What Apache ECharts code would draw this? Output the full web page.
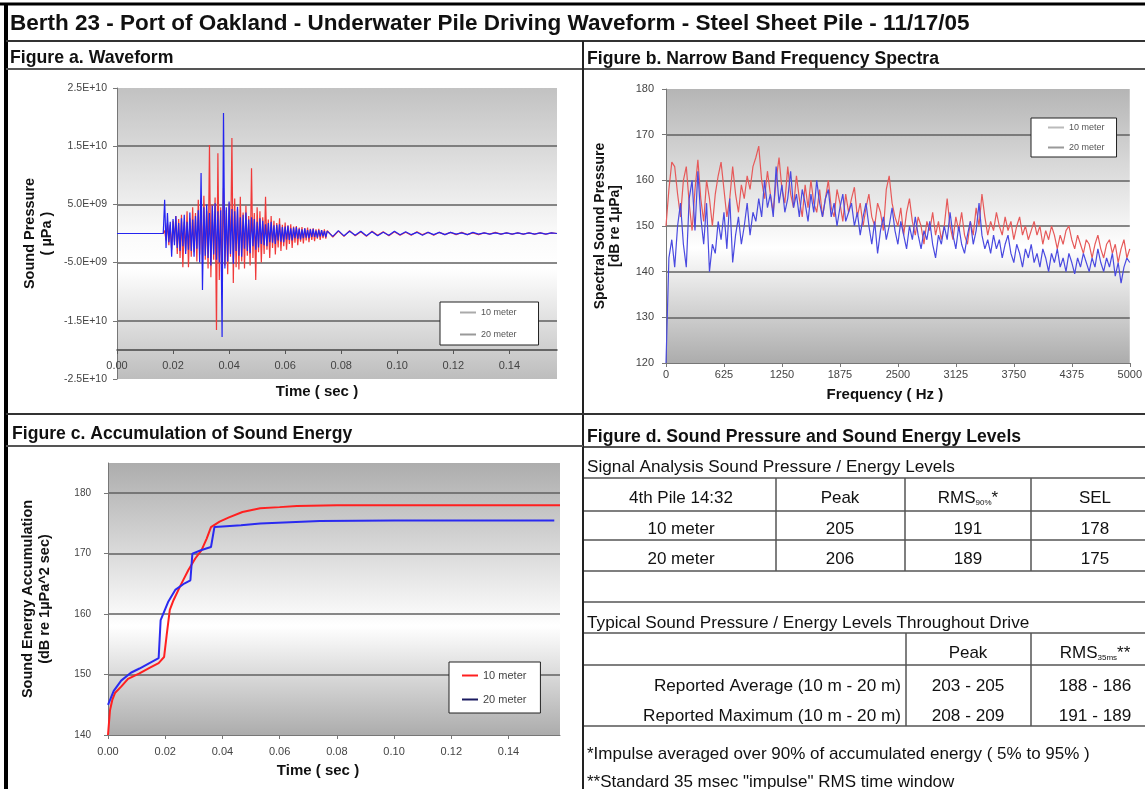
<!DOCTYPE html>
<html><head><meta charset="utf-8">
<script src="https://cdn.jsdelivr.net/npm/echarts@6/dist/echarts.min.js"></script>
<style>html,body{margin:0;padding:0;background:#fff;}#c{width:1145px;height:789px;}</style>
</head><body><div id="c"></div>
<script>
// ---------------- text ----------------
const pageTitle = 'Berth 23 - Port of Oakland - Underwater Pile Driving Waveform - Steel Sheet Pile - 11/17/05';
const panelTitles = ['Figure a. Waveform', 'Figure b. Narrow Band Frequency Spectra',
  'Figure c. Accumulation of Sound Energy', 'Figure d. Sound Pressure and Sound Energy Levels'];
const seriesNames = ['10 meter', '20 meter'];

// ---------------- Figure a: waveform (units of 1E9 µPa) ----------------
const wavePreTime = 0, wavePreValue = 0;
const waveBurstStart = 0.0165, waveBurstStep = 0.0005;
const waveTailStart = 0.075, waveTailStep = 0.002;
const wave10Burst = [0,0.5,-1.2,1.8,-2.0,1.5,-2.8,2.2,-1.5,3.0,
 -3.5,2.5,-4.2,3.2,-5.8,2.0,-3.0,3.8,-5.8,2.6,
 -4.0,4.5,-3.2,3.5,-4.8,5.8,-3.6,4.2,-5.2,6.5,
 -4.5,3.8,-6.0,15.2,-7.5,5.0,-4.5,6.2,-16.6,13.8,
 -8.0,4.5,-6.5,7.8,-5.5,4.0,-7.0,5.2,-4.0,16.4,
 -8.5,6.0,-5.8,4.2,-6.2,6.3,-4.8,3.6,-6.0,4.8,
 -3.8,3.0,-5.5,11.2,-4.2,3.5,-8.0,4.5,-3.2,3.8,
 -5.0,2.8,-3.5,6.3,-2.8,2.4,-4.2,3.0,-2.5,2.2,
 -3.6,1.8,-2.4,2.6,-3.0,1.5,-2.2,1.9,-2.8,1.4,
 -1.8,1.6,-2.5,1.2,-1.6,1.3,-2.0,1.0,-1.4,1.1,
 -1.7,0.9,-1.2,1.0,-1.5,0.8,-1.1,0.9,-1.3,0.7,
 -0.9,0.8,-1.1,0.6,-0.8,0.7,-0.9];
const wave20Burst = [0,5.8,-2.5,3.5,-1.5,2.0,-4.0,2.5,-2.0,3.0,
 -2.5,1.8,-3.0,2.6,-2.2,3.2,-3.5,2.0,-2.8,3.6,
 -3.0,2.4,-4.0,3.0,-2.6,4.0,-5.0,10.4,-9.7,4.5,
 -3.8,5.0,-4.2,3.5,-5.5,4.8,-3.6,5.2,-4.5,3.8,
 -5.0,4.0,-17.8,20.7,-6.0,4.5,-4.8,5.5,-3.5,4.2,
 -5.2,3.8,-3.0,4.6,-3.8,2.8,-4.0,3.2,-2.6,3.6,
 -3.0,2.4,-3.4,2.8,-2.2,2.5,-2.8,2.0,-2.4,2.6,
 -1.8,2.2,-2.0,1.6,-2.2,1.8,-1.5,2.0,-1.6,1.4,
 -1.8,1.5,-1.2,1.6,-1.4,1.1,-1.5,1.2,-1.0,1.3,
 -1.1,0.9,-1.2,1.0,-0.8,1.1,-0.9,0.8,-1.0,0.7,
 -0.8,0.9,-0.7,0.6,-0.8,0.7,-0.6,0.8,-0.6,0.5,
 -0.7,0.6,-0.5,0.6,-0.5,0.4,-0.6];
const wave10Tail = [0.5,-0.6,0.4,-0.5,0.5,-0.4,0.3,-0.5,0.4,-0.3,0.3,-0.4,0.3,-0.3,0.2,-0.3,0.3,-0.2,0.2,-0.3,0.2,-0.2,0.2,-0.2,0.2,-0.2,0.1,-0.2,0.1,-0.1,0.2,-0.1,0.1,-0.1,0.1,-0.1,0.1,-0.1,0.1,-0.1,0.1,0];
const wave20Tail = [0.4,-0.5,0.5,-0.4,0.4,-0.3,0.4,-0.4,0.3,-0.4,0.2,-0.3,0.4,-0.2,0.3,-0.2,0.2,-0.3,0.2,-0.2,0.2,-0.2,0.2,-0.1,0.1,-0.2,0.2,-0.1,0.1,-0.1,0.1,-0.1,0.1,-0.1,0.1,-0.1,0.1,-0.1,0.1,-0.1,0.1,0];

// ---------------- Figure b: spectra (dB re 1µPa), 31.25 Hz bins ----------------
const specStart = 0, specStep = 31.25;
const spec10 = [150,158,164,163,157,152,160,163,
 155,149,158,164.5,156,151,160,156,
 150,157,161,164,158,152,156,163,
 157,153,159,156,161,158,163,165,
 167.5,160,156,162,157,153,160,165,
 158,155,163,157,154,161,156,152,
 159,154,160,155,153,158,152,156,
 160,154,152,158,155,151,157,153,
 156,158.5,152,155,150,154,157,152,
 150,155,153,149,158,161,155,152,
 150,154,148,153,156,151,148,152,
 150,146,151,149,153,148,151,147,
 150,156,150,147,152,149,153,148,
 146,151,148,154,150,157,152,148,
 151,149,153,150,148,152,149,151,
 147,150,152,148,150,147,149,151,
 148,150,146,149,147,150,148,145,
 148,146,149,150,147,145,148,146,
 144,147,146,143,146,148,145,143,
 146,147,144,146,142,145,147,143,
 145];
const spec20 = [120,143,147,141,150,155,146,141,
 156,160,149,162,152,146,155,140,
 146,144,151,147,153,145,156,142,
 148,152,146,150,155,148,153,151,
 156,152,160,154,157,152,163,155,
 159,153,156,162,154,157,152,158,
 155,151,157,153,160,155,152,156,
 158,152,155,150,154,157,151,153,
 155,150,153,148,152,155,150,146,
 151,144,149,152,147,150,154,149,
 146,151,148,145,150,147,152,148,
 145,149,147,151,146,143,148,146,
 150,147,153,148,145,150,146,144,
 148,151,146,149,155,148,145,147,
 144,148,145,147,143,146,148,144,
 142,146,144,141,145,143,146,142,
 144,141,145,143,140,144,142,145,
 141,143,140,144,142,139.5,143,141,
 144,142,140,143,141,145,142,140,
 143,141,144,139,142,137.5,141,143,
 142];

// ---------------- Figure c: accumulation (dB re 1µPa^2 sec) ----------------
const acc10Time  = [0,0.0007,0.0015,0.0025,0.0046,0.007,0.011,0.0145,0.0177,0.0196,0.0205,0.0216,0.0229,0.0254,0.0281,0.0305,0.0327,0.0345,0.036,0.039,0.0423,0.047,0.0532,0.06,0.066,0.08,0.1,0.13,0.158];
const acc10Level = [140,144.1,145.8,147.0,148.0,149.3,150.2,151.1,151.9,152.9,156.5,160.7,162.3,164.8,167.3,169.2,170.6,172.5,174.4,175.3,176.0,176.9,177.5,177.7,177.9,178.0,178.0,178.0,178.0];
const acc20Time  = [0,0.002,0.0046,0.008,0.011,0.0145,0.0177,0.0184,0.021,0.0235,0.0268,0.0288,0.0295,0.0327,0.036,0.0372,0.04,0.0465,0.0532,0.074,0.1,0.13,0.156];
const acc20Level = [145,147.3,149,150.3,151,151.9,152.7,159,162,164,165.1,165.6,170,170.6,171.1,174.4,174.5,174.7,175,175.4,175.5,175.5,175.5];

// ---------------- Figure d: tables ----------------
const tableATitle = 'Signal Analysis Sound Pressure / Energy Levels';
const tableAHeader = ['4th Pile 14:32', 'Peak', 'RMS|90%|*', 'SEL'];
const tableARows = [['10 meter','205','191','178'], ['20 meter','206','189','175']];
const tableBTitle = 'Typical Sound Pressure / Energy Levels Throughout Drive';
const tableBHeader = ['', 'Peak', 'RMS|35ms|**'];
const tableBRows = [['Reported Average (10 m - 20 m)','203 - 205','188 - 186'],
                    ['Reported Maximum (10 m - 20 m)','208 - 209','191 - 189']];
const footnotes = ['*Impulse averaged over 90% of accumulated energy ( 5% to 95% )',
                   '**Standard 35 msec "impulse" RMS time window'];

// ---------------- build ----------------
const FONT = "'Liberation Sans', Arial, Helvetica, sans-serif";
function waveData(burst, tail) {
  const d = [[wavePreTime, wavePreValue]];
  burst.forEach((v, i) => d.push([waveBurstStart + i * waveBurstStep, v]));
  tail.forEach((v, i) => d.push([waveTailStart + i * waveTailStep, v]));
  return d;
}
const specData = arr => arr.map((v, i) => [specStart + i * specStep, v]);
const pairData = (t, v) => t.map((x, i) => [x, v[i]]);
const grad = stops => ({type:'linear', x:0, y:0, x2:0, y2:1, colorStops: stops.map(s => ({offset:s[0], color:s[1]}))});
function sciFmt(v) {
  const x = v * 1e9;
  if (x === 0) return '0.0E+00';
  const e = Math.floor(Math.log10(Math.abs(x)) + 1e-9);
  const m = x / Math.pow(10, e);
  return m.toFixed(1) + 'E' + (e < 0 ? '-' : '+') + String(Math.abs(e)).padStart(2, '0');
}
const tickLbl = {fontSize: 11, color: '#444', fontFamily: FONT};
const axisNameY = {fontWeight: 'bold', fontSize: 14.5, lineHeight: 17, color: '#111', fontFamily: FONT};
const axisNameX = (pr) => ({fontWeight: 'bold', fontSize: 15, color: '#111', fontFamily: FONT, padding: [0, pr, 0, 0]});
const split = {show: true, showMinLine: false, showMaxLine: false, lineStyle: {color: '#606060', width: 1.5}};

// graphic: frame lines, titles, tables
const G = [];
function gl(x1, y1, x2, y2, c, w) { G.push({type:'line', silent:true, shape:{x1, y1, x2, y2}, style:{stroke:c, lineWidth:w}}); }
function gt(text, x, y, size, weight, align, extra) {
  G.push(Object.assign({type:'text', silent:true, x, y, style:Object.assign({
    text, font: `${weight} ${size}px ${FONT}`, fill:'#111',
    align, textAlign: align, verticalAlign:'middle', textVerticalAlign:'middle'}, extra || {})}));
}
function gRich(spec, x, y) {
  const p = spec.split('|');
  G.push({type:'text', silent:true, x, y, style:{
    text: `{a|${p[0]}}{s|${p[1]}}{a|${p[2]}}`, align:'center', textAlign:'center',
    verticalAlign:'middle', textVerticalAlign:'middle', fill:'#111',
    rich:{a:{fontSize:17, fontFamily:FONT, fill:'#111', color:'#111'},
          s:{fontSize:8, fontFamily:FONT, fill:'#111', color:'#111', verticalAlign:'bottom', lineHeight:17}}}});
}
// frame
gl(0, 4, 1145, 4, '#000', 3);
gl(6, 4, 6, 789, '#000', 4);
gl(6, 41, 1145, 41, '#333', 2);
gl(6, 69, 1145, 69, '#555', 2);
gl(583, 41, 583, 789, '#222', 2);
gl(6, 414, 1145, 414, '#333', 2);
gl(6, 446, 583, 446, '#555', 2);
gl(584, 447, 1145, 447, '#555', 2);
// titles
gt(pageTitle, 10, 24, 22.5, 'bold', 'left');
gt(panelTitles[0], 10, 58, 17.7, 'bold', 'left');
gt(panelTitles[1], 587, 59, 17.6, 'bold', 'left');
gt(panelTitles[2], 12, 434, 17.6, 'bold', 'left');
gt(panelTitles[3], 587, 437, 17.6, 'bold', 'left');
// table A
[478, 511, 540, 571, 602].forEach(y => gl(584, y, 1145, y, '#555', 1.5));
[776, 905, 1031].forEach(x => gl(x, 478, x, 571, '#555', 1.5));
gt(tableATitle, 587, 467, 17.2, 'normal', 'left');
const colA = [681, 840, 968, 1095];
tableAHeader.forEach((h, i) => h.includes('|') ? gRich(h, colA[i], 498) : gt(h, colA[i], 498, 17, 'normal', 'center'));
tableARows.forEach((r, j) => r.forEach((c, i) => gt(c, colA[i], 529 + j * 30, 17, 'normal', 'center')));
// table B
[633, 665, 726].forEach(y => gl(584, y, 1145, y, '#555', 1.5));
[906, 1031].forEach(x => gl(x, 633, x, 726, '#555', 1.5));
gt(tableBTitle, 587, 623, 17.2, 'normal', 'left');
const colB = [901, 968, 1095];
tableBHeader.forEach((h, i) => { if (!h) return; h.includes('|') ? gRich(h, colB[i], 653) : gt(h, colB[i], 653, 17, 'normal', 'center'); });
tableBRows.forEach((r, j) => r.forEach((c, i) => gt(c, colB[i], 686 + j * 30, 17.2, 'normal', i === 0 ? 'right' : 'center')));
footnotes.forEach((f, j) => gt(f, 587, 754 + j * 28, 17, 'normal', 'left'));

const legendBase = (left, top, pad, gap, fs, tc, items) => ({
  left, top, orient:'vertical', padding: pad, itemGap: gap, itemWidth: 16, itemHeight: 14,
  backgroundColor:'#fff', borderColor:'#222', borderWidth:1, borderRadius:0, selectedMode:false,
  textStyle:{fontSize: fs, color: tc, fontFamily: FONT}, icon: 'rect',
  data: items.map(it => ({name: it[0], icon: 'path://M0,6 L16,6 L16,8 L0,8 Z', itemStyle:{color: it[1]}}))
});

const option = {
  animation: false,
  backgroundColor: '#fff',
  textStyle: {fontFamily: FONT},
  graphic: G,
  grid: [
    {left:117, top:88, width:440, height:291, show:true, borderWidth:0,
     backgroundColor: grad([[0,'#c2c2c2'],[0.5,'#fafafa'],[0.62,'#ffffff'],[1,'#bdbdbd']])},
    {left:666, top:89, width:474, height:274, show:true, borderWidth:0,
     backgroundColor: grad([[0,'#b5b5b5'],[0.58,'#ffffff'],[1,'#acacac']])},
    {left:108, top:463, width:452, height:272, show:true, borderWidth:0,
     backgroundColor: grad([[0,'#adadad'],[0.6,'#ffffff'],[1,'#acacac']])}
  ],
  xAxis: [
    {gridIndex:0, type:'value', min:0, max:0.157, interval:0.02, offset:-29,
     axisLine:{show:true, onZero:false, lineStyle:{color:'#444', width:1.5}},
     axisTick:{show:true, length:4, lineStyle:{color:'#555'}},
     axisLabel:Object.assign({margin:10, showMaxLabel:false, formatter: v => v.toFixed(2)}, tickLbl),
     splitLine:{show:false},
     name:'Time ( sec )', nameLocation:'middle', nameGap:34, nameTextStyle: axisNameX(40)},
    {gridIndex:1, type:'value', min:0, max:5000, interval:625,
     axisLine:{show:true, onZero:false, lineStyle:{color:'#777'}},
     axisTick:{show:true, length:4, lineStyle:{color:'#777'}},
     axisLabel:Object.assign({margin:6, formatter: v => String(v)}, tickLbl),
     splitLine:{show:false},
     name:'Frequency ( Hz )', nameLocation:'middle', nameGap:24, nameTextStyle: axisNameX(26)},
    {gridIndex:2, type:'value', min:0, max:0.158, interval:0.02,
     axisLine:{show:true, onZero:false, lineStyle:{color:'#777'}},
     axisTick:{show:true, length:4, lineStyle:{color:'#777'}},
     axisLabel:Object.assign({margin:11, showMaxLabel:false, formatter: v => v.toFixed(2)}, tickLbl),
     splitLine:{show:false},
     name:'Time ( sec )', nameLocation:'middle', nameGap:28, nameTextStyle: axisNameX(32)}
  ],
  yAxis: [
    {gridIndex:0, type:'value', min:-25, max:25, interval:10,
     axisLine:{show:true, onZero:false, lineStyle:{color:'#777'}},
     axisTick:{show:true, length:4, lineStyle:{color:'#777'}},
     axisLabel:Object.assign({margin:10, formatter: sciFmt}, tickLbl, {fontSize:10.5}),
     splitLine: split,
     name:'Sound Pressure\n( µPa )', nameLocation:'middle', nameRotate:90, nameGap:62, nameTextStyle: axisNameY},
    {gridIndex:1, type:'value', min:120, max:180, interval:10,
     axisLine:{show:true, onZero:false, lineStyle:{color:'#777'}},
     axisTick:{show:true, length:4, lineStyle:{color:'#777'}},
     axisLabel:Object.assign({margin:12}, tickLbl),
     splitLine: split,
     name:'Spectral Sound Pressure\n[dB re 1µPa]', nameLocation:'middle', nameRotate:90, nameGap:43,
     nameTextStyle: Object.assign({}, axisNameY, {fontSize:14, lineHeight:15})},
    {gridIndex:2, type:'value', min:140, max:185, interval:10,
     axisLine:{show:true, onZero:false, lineStyle:{color:'#777'}},
     axisTick:{show:true, length:4, lineStyle:{color:'#777'}},
     axisLabel:Object.assign({margin:17, showMaxLabel:false}, tickLbl, {fontSize:10}),
     splitLine: split,
     name:'Sound Energy Accumulation\n(dB re 1µPa^2 sec)', nameLocation:'middle', nameRotate:90, nameGap:55, nameTextStyle: axisNameY}
  ],
  legend: [
    legendBase(440, 302, [6,22,6,20], 13, 9, '#555', [[seriesNames[0],'#aaa'],[seriesNames[1],'#999']]),
    legendBase(1031, 118, [5,12,5,17], 11, 9, '#555', [[seriesNames[0],'#bbb'],[seriesNames[1],'#999']]),
    legendBase(449, 662, [8,14,8,13], 13, 11, '#444', [[seriesNames[0],'#ff2020'],[seriesNames[1],'#1a1a60']])
  ],
  series: [
    {name:seriesNames[0], type:'line', xAxisIndex:0, yAxisIndex:0, symbol:'none', data: waveData(wave10Burst, wave10Tail),
     lineStyle:{color:'#f03a3a', width:1.2}, itemStyle:{color:'#f03a3a'}, z:2},
    {name:seriesNames[1], type:'line', xAxisIndex:0, yAxisIndex:0, symbol:'none', data: waveData(wave20Burst, wave20Tail),
     lineStyle:{color:'#2424f0', width:1.2}, itemStyle:{color:'#2424f0'}, z:3},
    {name:seriesNames[0], type:'line', xAxisIndex:1, yAxisIndex:1, symbol:'none', data: specData(spec10),
     lineStyle:{color:'#e65a5a', width:1.2}, itemStyle:{color:'#e65a5a'}, z:2},
    {name:seriesNames[1], type:'line', xAxisIndex:1, yAxisIndex:1, symbol:'none', data: specData(spec20),
     lineStyle:{color:'#4a4ae0', width:1.2}, itemStyle:{color:'#4a4ae0'}, z:3},
    {name:seriesNames[0], type:'line', xAxisIndex:2, yAxisIndex:2, symbol:'none', data: pairData(acc10Time, acc10Level),
     lineStyle:{color:'#ff2020', width:2}, itemStyle:{color:'#ff2020'}, z:2},
    {name:seriesNames[1], type:'line', xAxisIndex:2, yAxisIndex:2, symbol:'none', data: pairData(acc20Time, acc20Level),
     lineStyle:{color:'#2a2af0', width:2}, itemStyle:{color:'#2a2af0'}, z:3}
  ]
};
const chart = echarts.init(document.getElementById('c'));
chart.setOption(option);
</script>
</body></html>
